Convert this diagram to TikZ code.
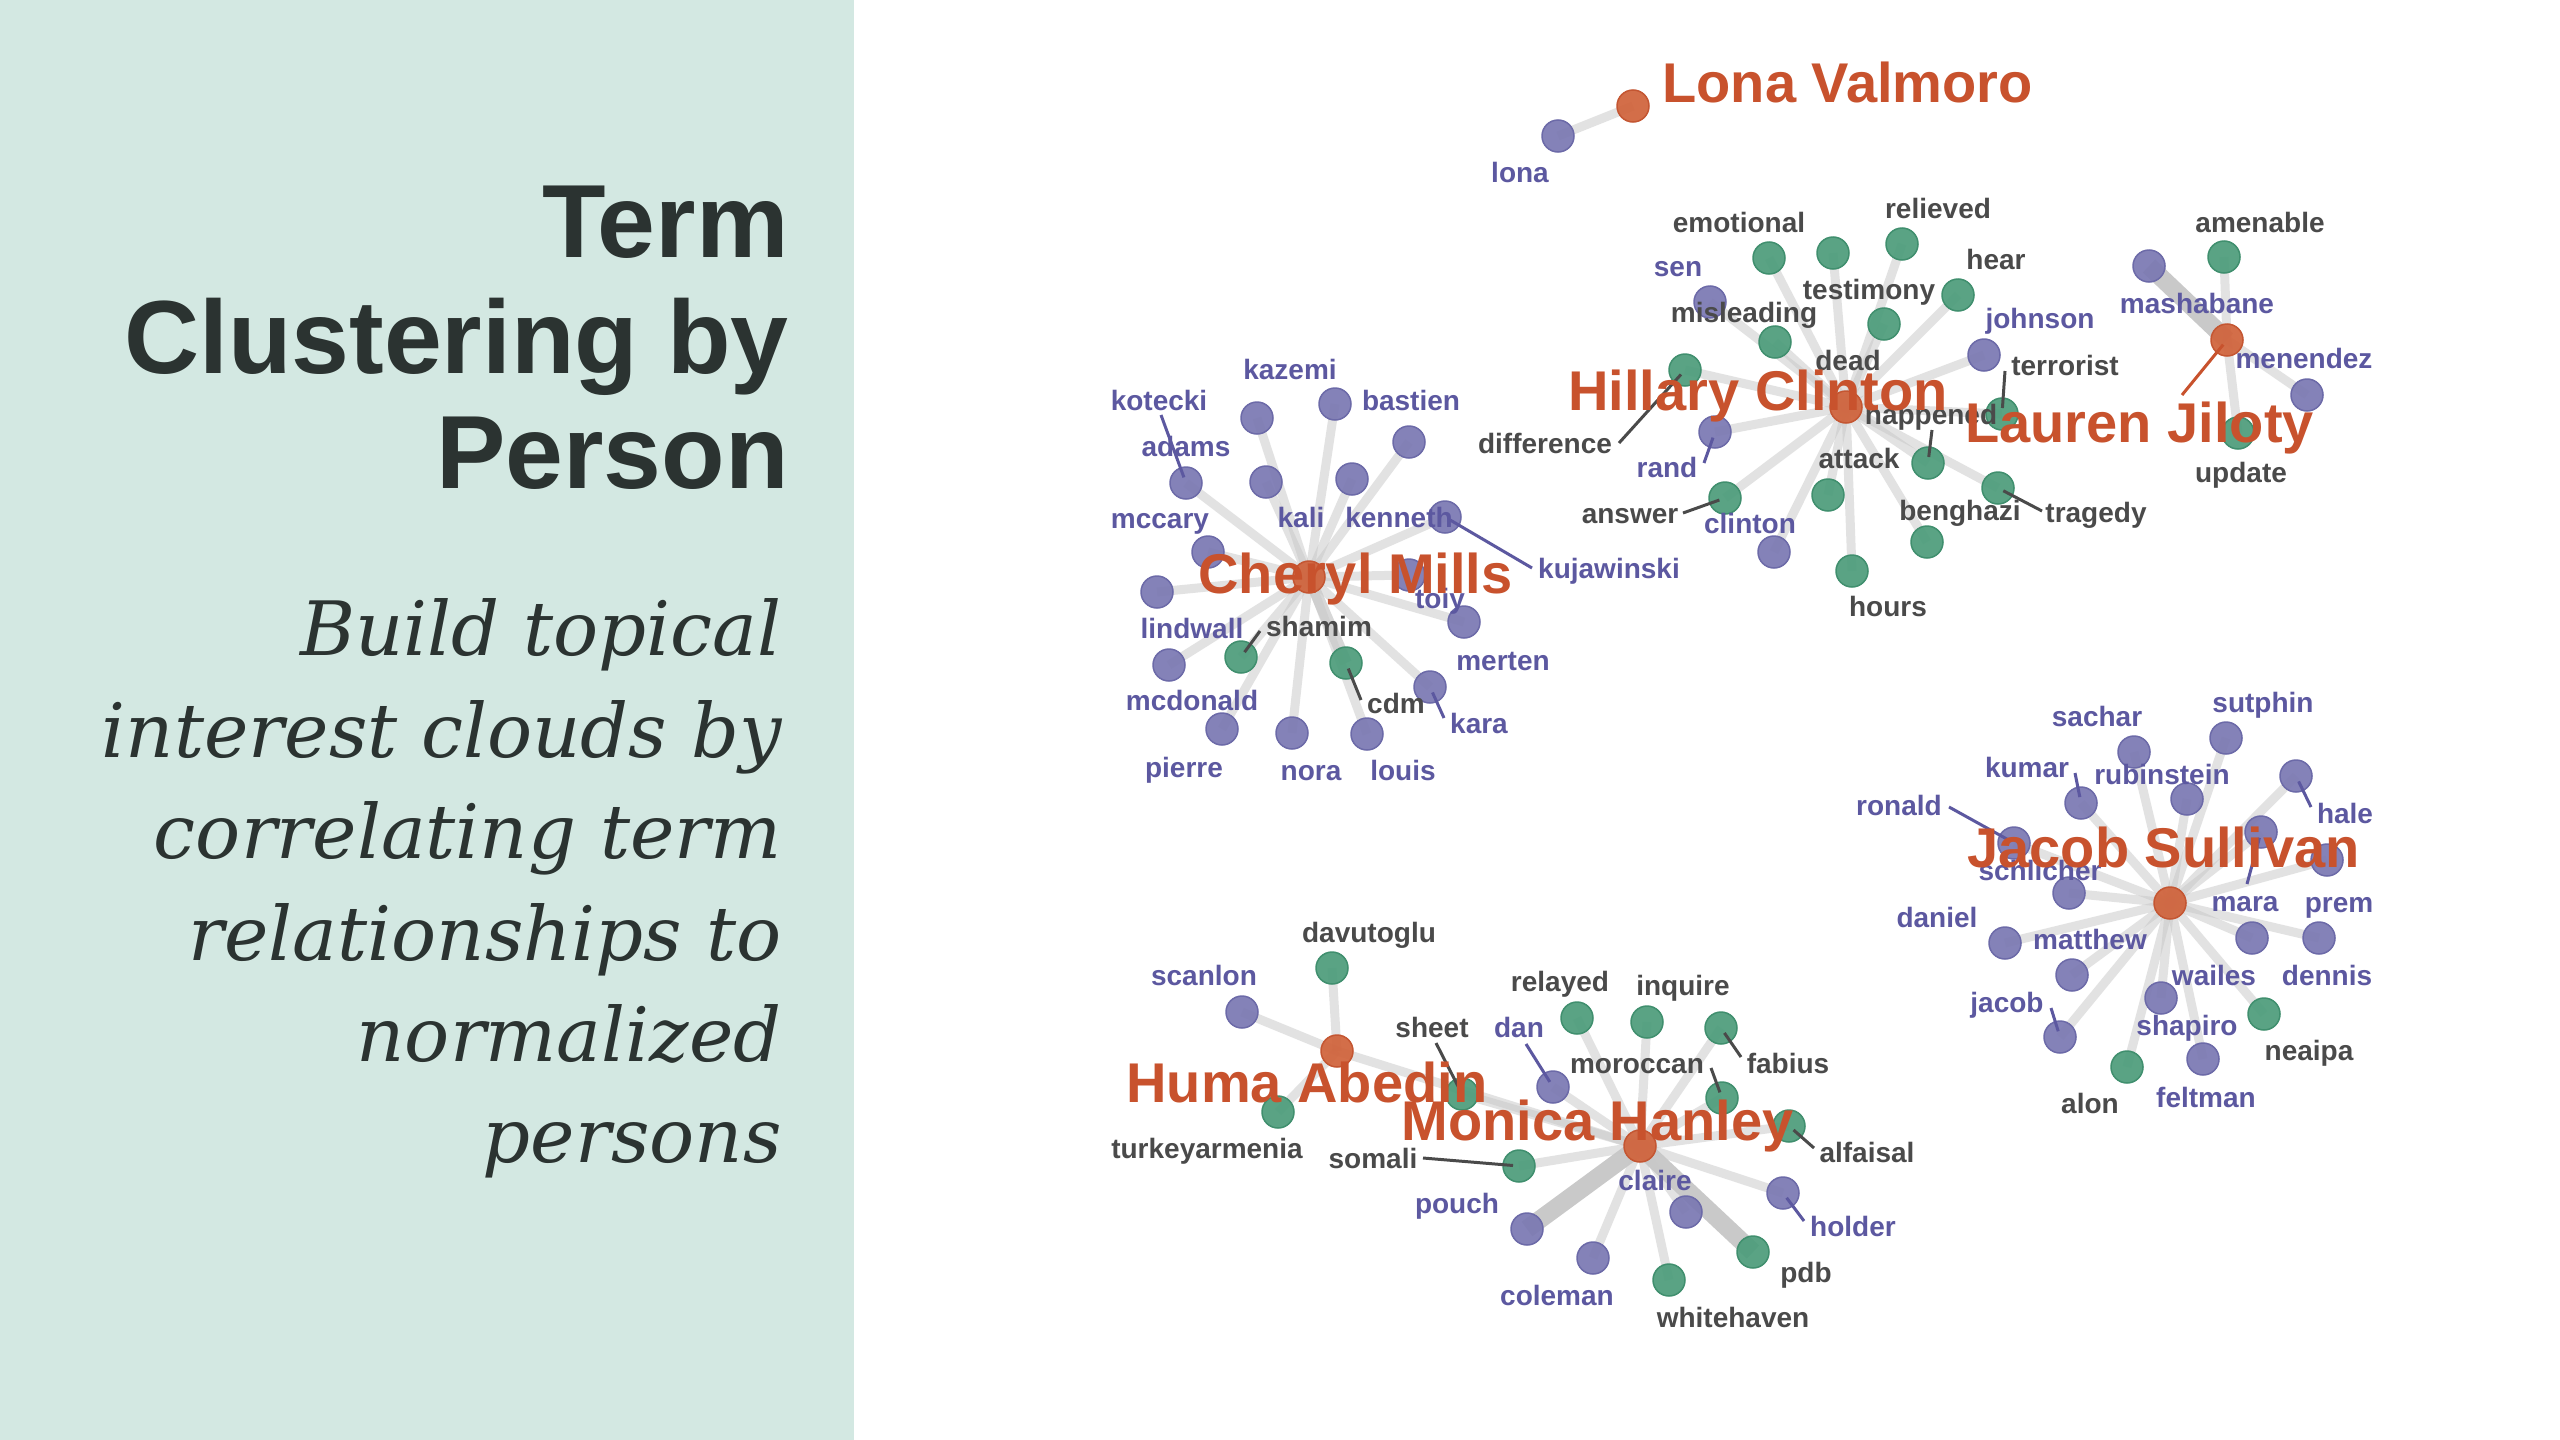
\documentclass[tikz,border=0pt]{standalone}
\usepackage{fontspec}
\setmainfont{Liberation Sans}
\newfontfamily\subtitlefont{DejaVu Serif}
\pgfdeclarelayer{back}
\pgfdeclarelayer{links}
\pgfsetlayers{back,links,main}

\definecolor{panelbg}{RGB}{211,232,226}
\definecolor{titleink}{RGB}{43,51,49}
\definecolor{nodepurple}{RGB}{122,120,178}
\definecolor{nodepurpleline}{RGB}{108,106,168}
\definecolor{nodegreen}{RGB}{76,156,122}
\definecolor{nodegreenline}{RGB}{64,143,110}
\definecolor{nodeorange}{RGB}{208,98,58}
\definecolor{nodeorangeline}{RGB}{196,86,50}
\definecolor{inkpurple}{RGB}{92,88,160}
\definecolor{inkdark}{RGB}{74,74,74}
\definecolor{inkorange}{RGB}{200,82,45}

\newcommand\termfont{\fontsize{14}{16}\selectfont\bfseries}
\newcommand\personfont{\fontsize{28}{32}\selectfont\bfseries}

\tikzset{
  dot/.style={circle, minimum size=16pt, inner sep=0pt, line width=0.75pt, fill opacity=0.92},
  dotp/.style={dot, fill=nodepurple, draw=nodepurpleline},
  dotg/.style={dot, fill=nodegreen, draw=nodegreenline},
  doto/.style={dot, fill=nodeorange, draw=nodeorangeline},
  lnk/.style={line width=4.5pt, draw=black!22, draw opacity=0.5},
  lnkmid/.style={line width=6pt, draw=black!22, draw opacity=0.7},
  lnkheavy/.style={line width=9pt, draw=black!22, draw opacity=0.95},
  leader/.style={line width=1.5pt, shorten >=3pt},
  leadd/.style={leader, draw=inkdark},
  leadp/.style={leader, draw=inkpurple},
  leado/.style={leader, draw=inkorange},
  lab/.style={anchor=base, inner sep=0pt, font=\termfont},
  labd/.style={lab, text=inkdark},
  labp/.style={lab, text=inkpurple},
  person/.style={anchor=base west, inner sep=0pt, font=\personfont, text=inkorange},
  titletxt/.style={anchor=base east, inner sep=0pt, font=\fontsize{52}{58}\selectfont\bfseries, text=titleink},
  subtxt/.style={anchor=base east, inner sep=0pt, font=\fontsize{37.5}{40}\selectfont\subtitlefont\itshape, text=titleink}
}

\begin{document}
\begin{tikzpicture}[x=0.5pt,y=-0.5pt]

% canvas and side panel
\begin{pgfonlayer}{back}
  \fill[white] (0,0) rectangle (2560,1440);
  \fill[panelbg] (0,0) rectangle (854,1440);
\end{pgfonlayer}
\useasboundingbox (0,0) rectangle (2560,1440);

% heading
\node[titletxt] (t1) at (789,257) {Term};
\node[titletxt] (t2) at (789,373) {Clustering by};
\node[titletxt] (t3) at (789,488) {Person};

\node[subtxt] (s1) at (782,655) {Build topical};
\node[subtxt] (s2) at (782,757) {interest clouds by};
\node[subtxt] (s3) at (782,858) {correlating term};
\node[subtxt] (s4) at (782,960) {relationships to};
\node[subtxt] (s5) at (782,1061) {normalized};
\node[subtxt] (s6) at (782,1162) {persons};

% ---------- Lona Valmoro ----------
\node[doto] (lv) at (1633,106) {};
\node[dotp] (lona) at (1558,136) {};

% ---------- Hillary Clinton ----------
\node[doto] (hc) at (1846,407) {};
\node[dotg] (h1) at (1769,258) {};
\node[dotg] (h2) at (1833,253) {};
\node[dotg] (h3) at (1902,244) {};
\node[dotg] (h4) at (1958,295) {};
\node[dotp] (h5) at (1710,302) {};
\node[dotg] (h6) at (1884,324) {};
\node[dotg] (h7) at (1775,342) {};
\node[dotp] (h8) at (1984,355) {};
\node[dotg] (h9) at (1685,370) {};
\node[dotp] (h10) at (1715,432) {};
\node[dotg] (h11) at (2002,414) {};
\node[dotg] (h12) at (1928,463) {};
\node[dotg] (h13) at (1828,495) {};
\node[dotg] (h14) at (1725,498) {};
\node[dotg] (h15) at (1998,488) {};
\node[dotp] (h16) at (1774,552) {};
\node[dotg] (h17) at (1927,542) {};
\node[dotg] (h18) at (1852,571) {};

% ---------- Lauren Jiloty ----------
\node[doto] (lj) at (2227,340) {};
\node[dotp] (m1) at (2149,266) {};
\node[dotg] (m2) at (2224,257) {};
\node[dotp] (m3) at (2307,395) {};
\node[dotg] (m4) at (2238,433) {};

% ---------- Cheryl Mills ----------
\node[doto] (cm) at (1309,577) {};
\node[dotp] (c1) at (1257,418) {};
\node[dotp] (c2) at (1335,404) {};
\node[dotp] (c3) at (1409,442) {};
\node[dotp] (c4) at (1186,483) {};
\node[dotp] (c5) at (1266,482) {};
\node[dotp] (c6) at (1352,479) {};
\node[dotp] (c7) at (1445,517) {};
\node[dotp] (c8) at (1208,552) {};
\node[dotp] (c9) at (1157,592) {};
\node[dotp] (c10) at (1409,575) {};
\node[dotp] (c11) at (1464,622) {};
\node[dotg] (c12) at (1241,657) {};
\node[dotp] (c13) at (1169,665) {};
\node[dotg] (c14) at (1346,663) {};
\node[dotp] (c15) at (1430,687) {};
\node[dotp] (c16) at (1222,729) {};
\node[dotp] (c17) at (1292,733) {};
\node[dotp] (c18) at (1367,734) {};

% ---------- Jacob Sullivan ----------
\node[doto] (js) at (2170,903) {};
\node[dotp] (j1) at (2226,738) {};
\node[dotp] (j2) at (2134,752) {};
\node[dotp] (j3) at (2081,803) {};
\node[dotp] (j4) at (2187,799) {};
\node[dotp] (j5) at (2296,776) {};
\node[dotp] (j6) at (2014,843) {};
\node[dotp] (j7) at (2261,832) {};
\node[dotp] (j8) at (2327,860) {};
\node[dotp] (j9) at (2069,893) {};
\node[dotp] (j10) at (2005,943) {};
\node[dotp] (j11) at (2252,938) {};
\node[dotp] (j12) at (2319,938) {};
\node[dotp] (j13) at (2072,975) {};
\node[dotp] (j14) at (2161,998) {};
\node[dotg] (j15) at (2264,1014) {};
\node[dotp] (j16) at (2060,1037) {};
\node[dotp] (j17) at (2203,1059) {};
\node[dotg] (j18) at (2127,1067) {};

% ---------- Huma Abedin ----------
\node[doto] (ha) at (1337,1051) {};
\node[dotg] (a1) at (1332,968) {};
\node[dotp] (a2) at (1242,1012) {};
\node[dotg] (a3) at (1278,1112) {};

% ---------- Monica Hanley ----------
\node[doto] (mh) at (1640,1146) {};
\node[dotg] (n1) at (1577,1018) {};
\node[dotg] (n2) at (1647,1022) {};
\node[dotg] (n3) at (1721,1028) {};
\node[dotg] (n4) at (1722,1098) {};
\node[dotp] (n5) at (1553,1087) {};
\node[dotg] (n6) at (1462,1094) {};
\node[dotg] (n7) at (1789,1126) {};
\node[dotg] (n8) at (1519,1166) {};
\node[dotp] (n9) at (1686,1212) {};
\node[dotp] (n10) at (1783,1193) {};
\node[dotp] (n11) at (1527,1229) {};
\node[dotg] (n12) at (1753,1252) {};
\node[dotp] (n13) at (1593,1258) {};
\node[dotg] (n14) at (1669,1280) {};

% ---------- links behind the dots ----------
\begin{pgfonlayer}{links}
  \draw[lnk] (lv.center) -- (lona.center);
  \foreach \k in {1,...,18} \draw[lnk] (hc.center) -- (h\k.center);
  \draw[lnkheavy] (lj.center) -- (m1.center);
  \foreach \k in {2,3,4} \draw[lnk] (lj.center) -- (m\k.center);
  \foreach \k in {1,...,13,15,16,17,18} \draw[lnk] (cm.center) -- (c\k.center);
  \draw[lnkmid] (cm.center) -- (c14.center);
  \foreach \k in {1,...,18} \draw[lnk] (js.center) -- (j\k.center);
  \foreach \k in {1,2,3} \draw[lnk] (ha.center) -- (a\k.center);
  \draw[lnk] (ha.center) -- (mh.center);
  \foreach \k in {1,...,10,13,14} \draw[lnk] (mh.center) -- (n\k.center);
  \draw[lnkheavy] (mh.center) -- (n11.center);
  \draw[lnkheavy] (mh.center) -- (n12.center);
\end{pgfonlayer}

% ---------- label leaders ----------
\coordinate (q-difference) at (1619,443);
\coordinate (q-rand) at (1704,463);
\coordinate (q-answer) at (1683,513);
\coordinate (q-terrorist) at (2005,371);
\coordinate (q-happened) at (1932,430);
\coordinate (q-tragedy) at (2042,511);
\coordinate (q-lauren) at (2182,395);
\coordinate (q-kotecki) at (1161,415);
\coordinate (q-kujawinski) at (1532,568);
\coordinate (q-shamim) at (1260,631);
\coordinate (q-cdm) at (1361,700);
\coordinate (q-kara) at (1444,718);
\coordinate (q-kumar) at (2075,773);
\coordinate (q-hale) at (2311,807);
\coordinate (q-ronald) at (1949,807);
\coordinate (q-mara) at (2247,884);
\coordinate (q-jacob) at (2051,1008);
\coordinate (q-fabius) at (1741,1057);
\coordinate (q-moroccan) at (1711,1068);
\coordinate (q-sheet) at (1436,1043);
\coordinate (q-dan) at (1526,1044);
\coordinate (q-alfaisal) at (1814,1148);
\coordinate (q-somali) at (1423,1158);
\coordinate (q-holder) at (1804,1221);

\draw[leadd] (q-difference) -- (h9.center);
\draw[leadp] (q-rand) -- (h10.center);
\draw[leadd] (q-answer) -- (h14.center);
\draw[leadd] (q-terrorist) -- (h11.center);
\draw[leadd] (q-happened) -- (h12.center);
\draw[leadd] (q-tragedy) -- (h15.center);
\draw[leado] (q-lauren) -- (lj.center);
\draw[leadp] (q-kotecki) -- (c4.center);
\draw[leadp] (q-kujawinski) -- (c7.center);
\draw[leadd] (q-shamim) -- (c12.center);
\draw[leadd] (q-cdm) -- (c14.center);
\draw[leadp] (q-kara) -- (c15.center);
\draw[leadp] (q-kumar) -- (j3.center);
\draw[leadp] (q-hale) -- (j5.center);
\draw[leadp] (q-ronald) -- (j6.center);
\draw[leadp] (q-mara) -- (j7.center);
\draw[leadp] (q-jacob) -- (j16.center);
\draw[leadd] (q-fabius) -- (n3.center);
\draw[leadd] (q-moroccan) -- (n4.center);
\draw[leadd] (q-sheet) -- (n6.center);
\draw[leadp] (q-dan) -- (n5.center);
\draw[leadd] (q-alfaisal) -- (n7.center);
\draw[leadd] (q-somali) -- (n8.center);
\draw[leadp] (q-holder) -- (n10.center);

% ---------- term labels ----------
\node[labp] (l-lona) at (1520,182) {lona};

\node[labd] (l-emotional) at (1739,232) {emotional};
\node[labd] (l-relieved) at (1938,218) {relieved};
\node[labd] (l-hear) at (1996,269) {hear};
\node[labp] (l-sen) at (1678,276) {sen};
\node[labd] (l-testimony) at (1869,299) {testimony};
\node[labd] (l-misleading) at (1744,322) {misleading};
\node[labp] (l-johnson) at (2040,328) {johnson};
\node[labd] (l-dead) at (1848,370) {dead};
\node[labd] (l-terrorist) at (2065,375) {terrorist};
\node[labd] (l-difference) at (1545,453) {difference};
\node[labp] (l-rand) at (1667,477) {rand};
\node[labd] (l-happened) at (1931,424) {happened};
\node[labd] (l-attack) at (1859,468) {attack};
\node[labd] (l-answer) at (1630,523) {answer};
\node[labp] (l-clinton) at (1750,533) {clinton};
\node[labd] (l-benghazi) at (1960,520) {benghazi};
\node[labd] (l-tragedy) at (2096,522) {tragedy};
\node[labd] (l-hours) at (1888,616) {hours};

\node[labd] (l-amenable) at (2260,232) {amenable};
\node[labp] (l-mashabane) at (2197,313) {mashabane};
\node[labp] (l-menendez) at (2304,368) {menendez};
\node[labd] (l-update) at (2241,482) {update};

\node[labp] (l-kotecki) at (1159,410) {kotecki};
\node[labp] (l-kazemi) at (1290,379) {kazemi};
\node[labp] (l-bastien) at (1411,410) {bastien};
\node[labp] (l-adams) at (1186,456) {adams};
\node[labp] (l-mccary) at (1160,528) {mccary};
\node[labp] (l-kali) at (1301,527) {kali};
\node[labp] (l-kenneth) at (1399,527) {kenneth};
\node[labp] (l-kujawinski) at (1609,578) {kujawinski};
\node[labp] (l-lindwall) at (1192,638) {lindwall};
\node[labd] (l-shamim) at (1319,636) {shamim};
\node[labp] (l-toiy) at (1440,608) {toiy};
\node[labp] (l-merten) at (1503,670) {merten};
\node[labp] (l-mcdonald) at (1192,710) {mcdonald};
\node[labd] (l-cdm) at (1396,713) {cdm};
\node[labp] (l-kara) at (1479,733) {kara};
\node[labp] (l-pierre) at (1184,777) {pierre};
\node[labp] (l-nora) at (1311,780) {nora};
\node[labp] (l-louis) at (1403,780) {louis};

\node[labp] (l-sutphin) at (2263,712) {sutphin};
\node[labp] (l-sachar) at (2097,726) {sachar};
\node[labp] (l-kumar) at (2027,777) {kumar};
\node[labp] (l-rubinstein) at (2162,784) {rubinstein};
\node[labp] (l-hale) at (2345,823) {hale};
\node[labp] (l-ronald) at (1899,815) {ronald};
\node[labp] (l-mara) at (2245,911) {mara};
\node[labp] (l-schlicher) at (2040,880) {schlicher};
\node[labp] (l-prem) at (2339,912) {prem};
\node[labp] (l-daniel) at (1937,927) {daniel};
\node[labp] (l-matthew) at (2090,949) {matthew};
\node[labp] (l-wailes) at (2214,985) {wailes};
\node[labp] (l-dennis) at (2327,985) {dennis};
\node[labp] (l-jacob) at (2007,1012) {jacob};
\node[labp] (l-shapiro) at (2187,1035) {shapiro};
\node[labd] (l-neaipa) at (2309,1060) {neaipa};
\node[labp] (l-feltman) at (2206,1107) {feltman};
\node[labd] (l-alon) at (2090,1113) {alon};

\node[labd] (l-davutoglu) at (1369,942) {davutoglu};
\node[labp] (l-scanlon) at (1204,985) {scanlon};
\node[labd] (l-turkeyarmenia) at (1207,1158) {turkeyarmenia};

\node[labd] (l-relayed) at (1560,991) {relayed};
\node[labd] (l-inquire) at (1683,995) {inquire};
\node[labd] (l-fabius) at (1788,1073) {fabius};
\node[labd] (l-moroccan) at (1637,1073) {moroccan};
\node[labd] (l-sheet) at (1432,1037) {sheet};
\node[labp] (l-dan) at (1519,1037) {dan};
\node[labd] (l-alfaisal) at (1867,1162) {alfaisal};
\node[labd] (l-somali) at (1373,1168) {somali};
\node[labp] (l-claire) at (1655,1190) {claire};
\node[labp] (l-holder) at (1853,1236) {holder};
\node[labp] (l-pouch) at (1457,1213) {pouch};
\node[labd] (l-pdb) at (1806,1282) {pdb};
\node[labp] (l-coleman) at (1557,1305) {coleman};
\node[labd] (l-whitehaven) at (1733,1327) {whitehaven};

% ---------- person names ----------
\node[person] (p-lv) at (1662,102) {Lona Valmoro};
\node[person] (p-hc) at (1568,410) {Hillary Clinton};
\node[person] (p-lj) at (1965,442) {Lauren Jiloty};
\node[person] (p-cm) at (1198,593) {Cheryl Mills};
\node[person] (p-js) at (1967,867) {Jacob Sullivan};
\node[person] (p-ha) at (1126,1102) {Huma Abedin};
\node[person] (p-mh) at (1401,1140) {Monica Hanley};

\end{tikzpicture}
\end{document}
